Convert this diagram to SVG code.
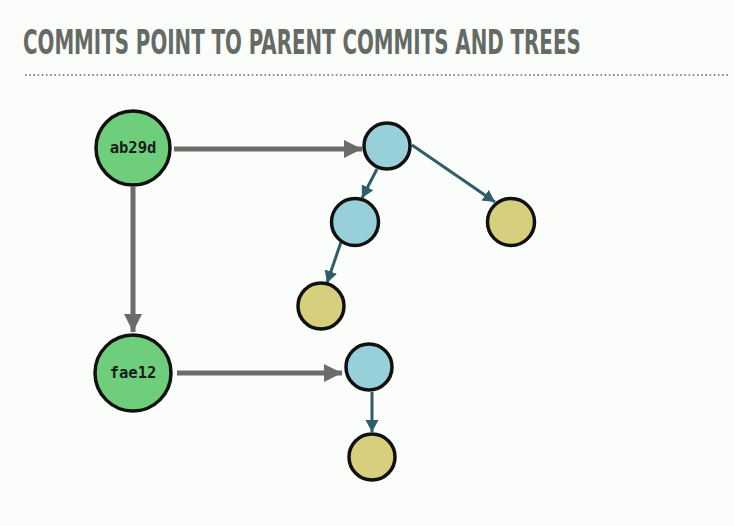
<svg xmlns="http://www.w3.org/2000/svg" width="734" height="526" viewBox="0 0 734 526">
<defs>
<style>
.title{font-family:"DejaVu Sans Condensed","DejaVu Sans","Liberation Sans",sans-serif;font-stretch:condensed;font-weight:bold;font-size:34px;fill:#656a65}
.lbl{font-family:"DejaVu Sans Mono","Liberation Mono",monospace;font-weight:bold;font-size:15.5px;fill:#1a1a1a;text-anchor:middle}
.commit{fill:#6fce7c;stroke:#111;stroke-width:3.5}
.tree{fill:#98d0da;stroke:#111;stroke-width:3.5}
.blob{fill:#d6d07e;stroke:#111;stroke-width:3.5}
.gray{stroke:#6a6d6a;stroke-width:5;fill:none}
.teal{stroke:#2f5f66;stroke-width:3;fill:none}
</style>
<marker id="ag" markerUnits="userSpaceOnUse" markerWidth="20" markerHeight="20" refX="18" refY="9" orient="auto">
<path d="M0,0 L18,9 L0,18 Z" fill="#6a6d6a"/>
</marker>
<marker id="at" markerUnits="userSpaceOnUse" markerWidth="14" markerHeight="14" refX="12" refY="6.5" orient="auto">
<path d="M0,0 L12,6.5 L0,13 Z" fill="#2f5f66"/>
</marker>
</defs>
<rect width="734" height="526" fill="#fbfdfb"/>
<text class="title" transform="translate(23,54) scale(0.65,1)" x="0" y="0" textLength="858" lengthAdjust="spacingAndGlyphs">COMMITS POINT TO PARENT COMMITS AND TREES</text>
<line x1="25" y1="75" x2="728" y2="75" stroke="#8f928f" stroke-width="2" stroke-dasharray="1.6 2.6"/>
<g id="connectors">
<line class="gray" x1="174" y1="149" x2="362" y2="149" marker-end="url(#ag)"/>
<line class="gray" x1="133" y1="187" x2="133" y2="332" marker-end="url(#ag)"/>
<line class="gray" x1="177" y1="373" x2="342" y2="373" marker-end="url(#ag)"/>
<line class="teal" x1="377" y1="169" x2="362" y2="198" marker-end="url(#at)"/>
<line class="teal" x1="412" y1="145" x2="495" y2="202" marker-end="url(#at)"/>
<line class="teal" x1="341" y1="242" x2="327" y2="283" marker-end="url(#at)"/>
<line class="teal" x1="372" y1="392" x2="372" y2="432" marker-end="url(#at)"/>
</g>
<g id="commit-ab29d"><circle class="commit" cx="133" cy="148" r="37"/><text class="lbl" x="133" y="153">ab29d</text></g>
<g id="commit-fae12"><circle class="commit" cx="133" cy="373" r="38"/><text class="lbl" x="133" y="378">fae12</text></g>
<g id="tree-1"><circle class="tree" cx="387" cy="146" r="23"/></g>
<g id="tree-2"><circle class="tree" cx="355" cy="222" r="23.5"/></g>
<g id="blob-1"><circle class="blob" cx="511" cy="222" r="23.5"/></g>
<g id="blob-2"><circle class="blob" cx="321" cy="306" r="23"/></g>
<g id="tree-3"><circle class="tree" cx="369" cy="367" r="23"/></g>
<g id="blob-3"><circle class="blob" cx="372" cy="457" r="23"/></g>
</svg>
